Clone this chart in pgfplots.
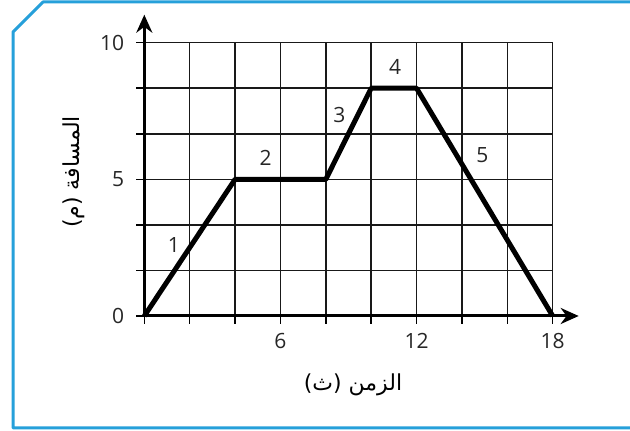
\documentclass[border=0pt]{standalone}
\usepackage{fontspec}
\usepackage{pgfplots}
\usepackage{pgfplotstable}
\pgfplotsset{compat=1.18}
\usetikzlibrary{arrows.meta}
\setmainfont{Open Sans}
\newfontfamily\arabicfont[Script=Arabic]{DejaVu Sans}
\TeXXeTstate=1
\definecolor{frameblue}{RGB}{38,160,218}

\pgfplotstableread{
x y
0 0
4 5
8 5
10 8.3333
12 8.3333
18 0
}\distdata
\pgfplotstableread{
lx ly lab
1.3 2.6 1
5.35 5.8 2
8.6 7.35 3
11.05 9.1 4
14.9 5.9 5
}\labdata

\begin{document}
\begin{tikzpicture}
\useasboundingbox (0,0) rectangle (315pt,215.5pt);
\begin{scope}[x=0.5pt,y=-0.5pt,yshift=215.5pt]
\draw[frameblue, line width=1.5pt, line join=round] (640,2) -- (43,2) -- (13,32) -- (13,428) -- (640,428);
\end{scope}
\begin{axis}[
  at={(72.15pt,57.5pt)}, anchor=south west,
  x=11.344pt, y=13.665pt,
  xmin=0, xmax=18, ymin=0, ymax=10,
  clip=false,
  axis lines=left,
  axis line style={line width=1.5pt, black},
  x axis line style={-{Stealth[length=9pt,width=8pt]}, shorten >=-13pt},
  y axis line style={-{Stealth[length=9pt,width=8pt]}, shorten >=-14pt},
  xtick={0,2,4,6,8,10,12,14,16,18},
  xticklabels={,,,6,,,12,,,18},
  ytick={0,1.66667,3.33333,5,6.66667,8.33333,10},
  yticklabels={0,,,5,,,10},
  grid=major,
  major grid style={line width=0.8pt, black!90},
  tick align=outside,
  major tick length=4pt,
  tick style={line width=0.8pt, black},
  ticklabel style={font=\fontsize{10.5}{12}\selectfont, text=black!85},
  yticklabel style={xshift=-2.5pt},
  xticklabel style={yshift=-1pt},
]
\addplot[line width=2.5pt, black, line join=round] table[x=x,y=y] {\distdata};
\addplot[only marks, mark=none, nodes near coords, point meta=explicit symbolic,
  nodes near coords style={anchor=center, font=\fontsize{10.5}{12}\selectfont, text=black!85}]
  table[x=lx,y=ly,meta=lab] {\labdata};
\node[font=\arabicfont\fontsize{11}{13}\selectfont] at (axis cs:9.2,-2.52) {\beginR الزمن (ث)\endR};
\node[font=\arabicfont\fontsize{11}{13}\selectfont, rotate=90] at (axis cs:-3.1,5.27) {\beginR المسافة (م)\endR};
\end{axis}
\end{tikzpicture}
\end{document}
